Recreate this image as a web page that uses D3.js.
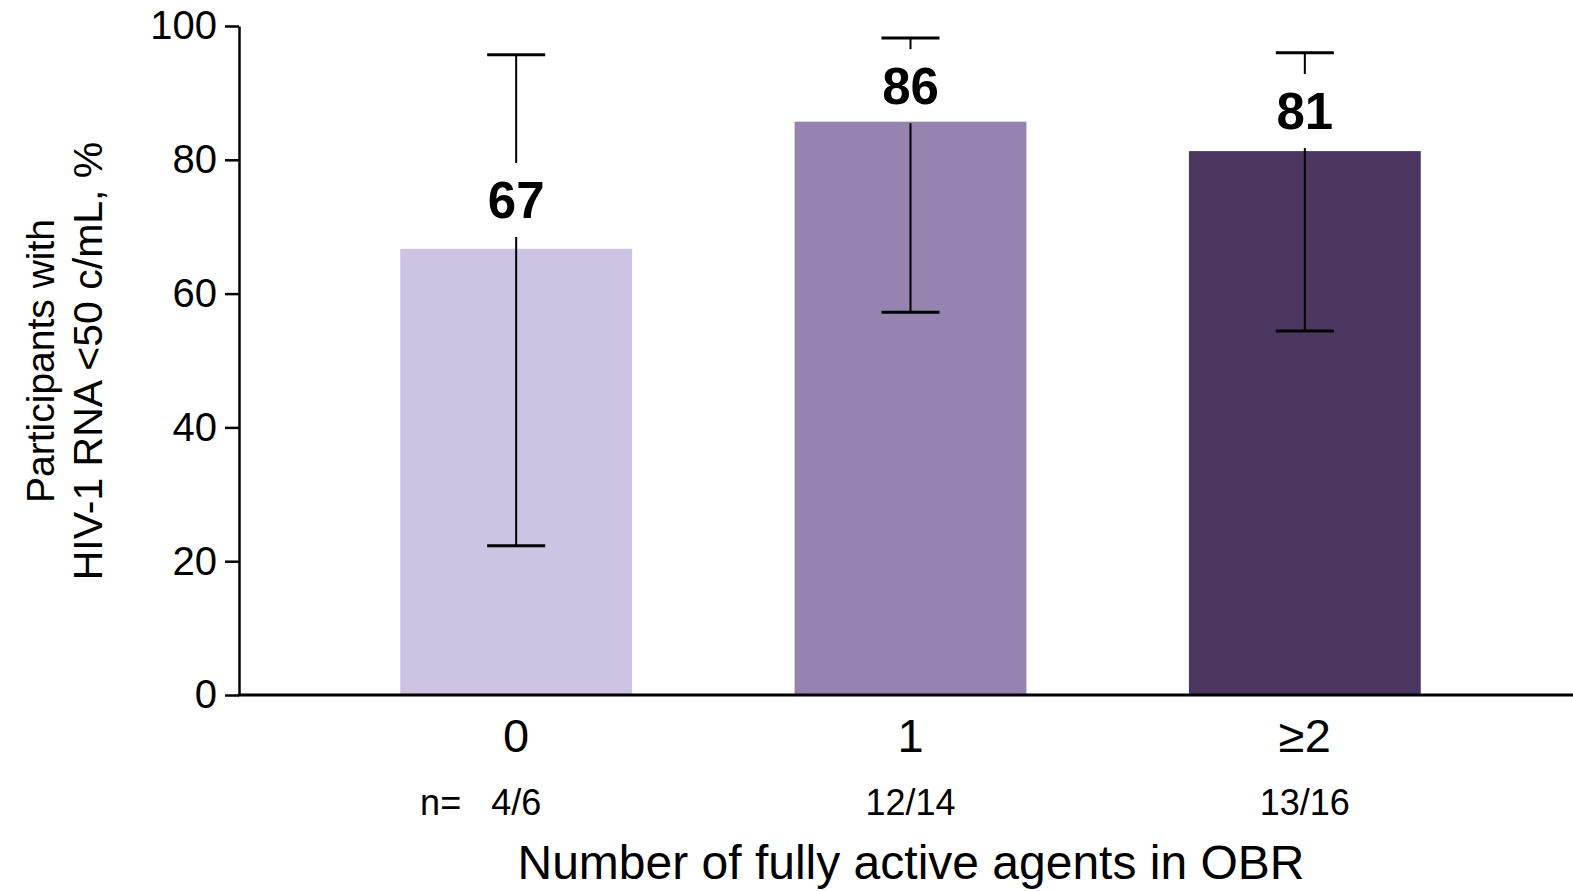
<!DOCTYPE html>
<html>
<head>
<meta charset="utf-8">
<script src="https://cdn.jsdelivr.net/npm/d3@7"></script>
<style>
  html, body { margin: 0; padding: 0; background: #fff; }
  svg { display: block; }
  text { font-family: "Liberation Sans", Arial, sans-serif; fill: #000; }
</style>
</head>
<body>
<script>
// ---- data ----
const categories = ["0", "1", "≥2"];
const nLabels = ["4/6", "12/14", "13/16"];
const values = [66.7, 85.7, 81.3];
const valueLabels = ["67", "86", "81"];
const ciLow = [22.3, 57.2, 54.4];
const ciHigh = [95.7, 98.2, 96.0];
const labelPos = [74.0, 91.0, 87.3];
const yTicks = [0, 20, 40, 60, 80, 100];
const barColors = ["#CDC3E3", "#9683AF", "#4B3660"];
const yTitleLines = ["Participants with", "HIV-1 RNA <50 c/mL, %"];
const xTitle = "Number of fully active agents in OBR";

// ---- layout ----
const W = 1573, H = 891;
const axisX = 239, y0px = 695, y100px = 26;

const svg = d3.select("body").append("svg").attr("width", W).attr("height", H);

const y = d3.scaleLinear().domain([0, 100]).range([y0px, y100px]);
const x = d3.scaleBand().domain(categories).range([319, 1502]).paddingInner(0.412).paddingOuter(0.206);

// bars
svg.selectAll("rect.bar").data(categories).enter().append("rect")
  .attr("class", "bar")
  .attr("x", d => x(d))
  .attr("width", x.bandwidth())
  .attr("y", (d, i) => y(values[i]))
  .attr("height", (d, i) => y(0) - y(values[i]))
  .attr("fill", (d, i) => barColors[i]);

// error bars
const half = 37, capW = 58;
categories.forEach((c, i) => {
  const cx = x(c) + x.bandwidth() / 2;
  const ly = y(labelPos[i]);
  const g = svg.append("g").attr("stroke", "#000");
  g.append("line").attr("x1", cx).attr("x2", cx).attr("y1", y(ciHigh[i])).attr("y2", ly - half).attr("stroke-width", 2);
  g.append("line").attr("x1", cx).attr("x2", cx).attr("y1", ly + half).attr("y2", y(ciLow[i])).attr("stroke-width", 2);
  g.append("line").attr("x1", cx - capW / 2).attr("x2", cx + capW / 2).attr("y1", y(ciHigh[i])).attr("y2", y(ciHigh[i])).attr("stroke-width", 3);
  g.append("line").attr("x1", cx - capW / 2).attr("x2", cx + capW / 2).attr("y1", y(ciLow[i])).attr("y2", y(ciLow[i])).attr("stroke-width", 3);
  svg.append("text").attr("x", cx).attr("y", ly).attr("dy", "0.355em")
    .attr("text-anchor", "middle").attr("font-weight", "bold").attr("font-size", 51)
    .text(valueLabels[i]);
});

// y axis
const yAxis = svg.append("g").attr("transform", `translate(${axisX},0)`)
  .call(d3.axisLeft(y).tickValues(yTicks).tickSize(14).tickSizeOuter(0).tickPadding(8));
yAxis.select(".domain").attr("stroke", "#000").attr("stroke-width", 2.5);
yAxis.selectAll(".tick line").attr("stroke", "#000").attr("stroke-width", 2.5);
yAxis.selectAll(".tick text").attr("font-size", 40).attr("font-family", "Liberation Sans, Arial, sans-serif").attr("fill", "#000");

// x axis line
svg.append("line").attr("x1", axisX - 1).attr("x2", W).attr("y1", y(0)).attr("y2", y(0))
  .attr("stroke", "#000").attr("stroke-width", 3);

// x tick labels
svg.selectAll("text.xt").data(categories).enter().append("text")
  .attr("class", "xt")
  .attr("x", d => x(d) + x.bandwidth() / 2)
  .attr("y", 752)
  .attr("text-anchor", "middle").attr("font-size", 47)
  .text(d => d);

// n labels
svg.selectAll("text.nl").data(nLabels).enter().append("text")
  .attr("class", "nl")
  .attr("x", (d, i) => x(categories[i]) + x.bandwidth() / 2)
  .attr("y", 815)
  .attr("text-anchor", "middle").attr("font-size", 36)
  .text(d => d);
svg.append("text").attr("x", x(categories[0]) + x.bandwidth() / 2 - 55).attr("y", 815)
  .attr("text-anchor", "end").attr("font-size", 36).text("n=");

// x title
svg.append("text").attr("x", 911).attr("y", 879).attr("text-anchor", "middle")
  .attr("font-size", 48).text(xTitle);

// y title
const yt = svg.append("text").attr("transform", "translate(0,361) rotate(-90)")
  .attr("text-anchor", "middle");
yt.append("tspan").attr("x", 0).attr("y", 54).attr("font-size", 39).text(yTitleLines[0]);
yt.append("tspan").attr("x", 0).attr("y", 102).attr("font-size", 41).text(yTitleLines[1]);
</script>
</body>
</html>
